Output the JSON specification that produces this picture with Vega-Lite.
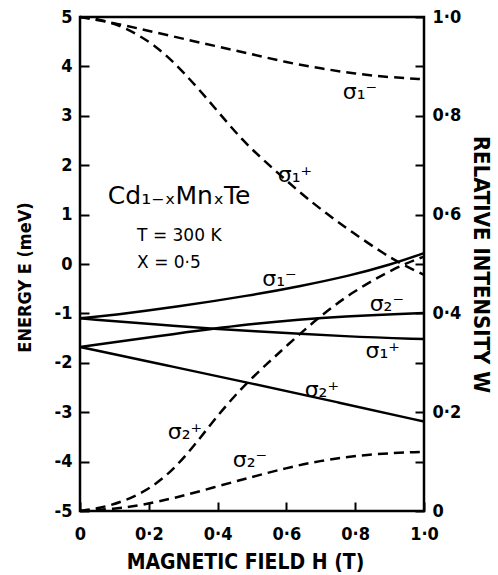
{
  "$schema": "https://vega.github.io/schema/vega-lite/v6.json",
  "width": 344,
  "height": 494,
  "autosize": "none",
  "padding": {"left": 80, "top": 17, "right": 74, "bottom": 64},
  "background": "white",
  "config": {
    "view": {"stroke": "black", "strokeWidth": 2.5},
    "axis": {
      "labelFont": "DejaVu Sans Condensed, Liberation Sans Narrow, DejaVu Sans", "labelFontWeight": "bold", "labelColor": "black", "labelFontSize": 18,
      "titleFont": "DejaVu Sans Condensed, Liberation Sans Narrow, DejaVu Sans", "titleFontWeight": "bold", "titleColor": "black", "titleFontSize": 19,
      "domain": false, "offset": -9, "tickSize": 9, "tickColor": "black", "tickWidth": 2, "grid": false, "labelFlush": false, "labelOverlap": false
    }
  },
  "datasets": {
    "energy": [
      {"s": "s1m", "H": 0, "E": -1.1}, {"s": "s1m", "H": 0.1, "E": -1.03}, {"s": "s1m", "H": 0.28, "E": -0.87}, {"s": "s1m", "H": 0.5, "E": -0.63}, {"s": "s1m", "H": 0.64, "E": -0.45}, {"s": "s1m", "H": 0.785, "E": -0.235}, {"s": "s1m", "H": 0.9, "E": -0.02}, {"s": "s1m", "H": 1.0, "E": 0.22},
      {"s": "s1p", "H": 0, "E": -1.1}, {"s": "s1p", "H": 0.28, "E": -1.26}, {"s": "s1p", "H": 0.5, "E": -1.36}, {"s": "s1p", "H": 0.78, "E": -1.47}, {"s": "s1p", "H": 1.0, "E": -1.52},
      {"s": "s2m", "H": 0, "E": -1.68}, {"s": "s2m", "H": 0.28, "E": -1.41}, {"s": "s2m", "H": 0.5, "E": -1.2}, {"s": "s2m", "H": 0.785, "E": -1.05}, {"s": "s2m", "H": 1.0, "E": -0.99},
      {"s": "s2p", "H": 0, "E": -1.68}, {"s": "s2p", "H": 0.25, "E": -2.05}, {"s": "s2p", "H": 0.5, "E": -2.42}, {"s": "s2p", "H": 0.75, "E": -2.8}, {"s": "s2p", "H": 1.0, "E": -3.19}
    ],
    "intensity": [
      {"s": "s1m", "H": 0, "W": 1.0}, {"s": "s1m", "H": 0.1, "W": 0.988}, {"s": "s1m", "H": 0.25, "W": 0.964}, {"s": "s1m", "H": 0.4, "W": 0.94}, {"s": "s1m", "H": 0.5, "W": 0.925}, {"s": "s1m", "H": 0.6, "W": 0.908}, {"s": "s1m", "H": 0.7, "W": 0.896}, {"s": "s1m", "H": 0.8, "W": 0.885}, {"s": "s1m", "H": 0.9, "W": 0.878}, {"s": "s1m", "H": 1.0, "W": 0.874},
      {"s": "s1p", "H": 0, "W": 1.0}, {"s": "s1p", "H": 0.05, "W": 0.997}, {"s": "s1p", "H": 0.13, "W": 0.98}, {"s": "s1p", "H": 0.22, "W": 0.943}, {"s": "s1p", "H": 0.3, "W": 0.89}, {"s": "s1p", "H": 0.39, "W": 0.818}, {"s": "s1p", "H": 0.47, "W": 0.751}, {"s": "s1p", "H": 0.55, "W": 0.7}, {"s": "s1p", "H": 0.64, "W": 0.644}, {"s": "s1p", "H": 0.72, "W": 0.6}, {"s": "s1p", "H": 0.79, "W": 0.565}, {"s": "s1p", "H": 0.88, "W": 0.522}, {"s": "s1p", "H": 0.94, "W": 0.498}, {"s": "s1p", "H": 1.0, "W": 0.478},
      {"s": "s2p", "H": 0, "W": 0}, {"s": "s2p", "H": 0.08, "W": 0.008}, {"s": "s2p", "H": 0.18, "W": 0.034}, {"s": "s2p", "H": 0.26, "W": 0.075}, {"s": "s2p", "H": 0.33, "W": 0.13}, {"s": "s2p", "H": 0.39, "W": 0.185}, {"s": "s2p", "H": 0.47, "W": 0.25}, {"s": "s2p", "H": 0.55, "W": 0.302}, {"s": "s2p", "H": 0.6, "W": 0.334}, {"s": "s2p", "H": 0.69, "W": 0.39}, {"s": "s2p", "H": 0.79, "W": 0.443}, {"s": "s2p", "H": 0.92, "W": 0.494}, {"s": "s2p", "H": 1.0, "W": 0.515},
      {"s": "s2m", "H": 0, "W": 0}, {"s": "s2m", "H": 0.1, "W": 0.004}, {"s": "s2m", "H": 0.18, "W": 0.012}, {"s": "s2m", "H": 0.28, "W": 0.027}, {"s": "s2m", "H": 0.39, "W": 0.048}, {"s": "s2m", "H": 0.5, "W": 0.069}, {"s": "s2m", "H": 0.6, "W": 0.087}, {"s": "s2m", "H": 0.69, "W": 0.101}, {"s": "s2m", "H": 0.83, "W": 0.115}, {"s": "s2m", "H": 1.0, "W": 0.12}
    ],
    "labels": [
      {"H": 0.814, "E": 3.49, "t": "σ₁⁻"},
      {"H": 0.625, "E": 1.81, "t": "σ₁⁺"},
      {"H": 0.58, "E": -0.3, "t": "σ₁⁻"},
      {"H": 0.892, "E": -0.81, "t": "σ₂⁻"},
      {"H": 0.88, "E": -1.77, "t": "σ₁⁺"},
      {"H": 0.703, "E": -2.56, "t": "σ₂⁺"},
      {"H": 0.305, "E": -3.4, "t": "σ₂⁺"},
      {"H": 0.494, "E": -3.97, "t": "σ₂⁻"}
    ],
    "notes": [
      {"H": 0.081, "E": 1.38, "t": "Cd₁₋ₓMnₓTe", "size": 25},
      {"H": 0.166, "E": 0.56, "t": "T = 300 K", "size": 17},
      {"H": 0.166, "E": 0.02, "t": "X = 0·5", "size": 17}
    ]
  },
  "layer": [
    {
      "data": {"name": "energy"},
      "mark": {"type": "line", "color": "black", "strokeWidth": 2.5, "interpolate": "basis"},
      "encoding": {
        "x": {"field": "H", "type": "quantitative", "scale": {"domain": [0, 1]},
          "axis": {"title": "MAGNETIC FIELD H (T)", "titleFontSize": 21, "titleX": 165, "values": [0, 0.1, 0.2, 0.3, 0.4, 0.5, 0.6, 0.7, 0.8, 0.9, 1.0], "labelPadding": 14,
            "labelExpr": "round(datum.value*10)%2==1 ? '' : (datum.value==0 ? '0' : replace(format(datum.value,'.1f'),'.','·'))", "titlePadding": 8}},
        "y": {"field": "E", "type": "quantitative", "scale": {"domain": [-5, 5]},
          "axis": {"title": "ENERGY E (meV)", "titleFontSize": 18, "titleY": 260, "titleAlign": "center", "values": [-5, -4, -3, -2, -1, 0, 1, 2, 3, 4, 5], "labelPadding": 8, "titlePadding": 20, "labelExpr": "toString(datum.value)"}},
        "detail": {"field": "s"}
      }
    },
    {
      "data": {"name": "intensity"},
      "mark": {"type": "line", "color": "black", "strokeWidth": 2.5, "strokeDash": [10, 6], "interpolate": "basis"},
      "encoding": {
        "x": {"field": "H", "type": "quantitative", "scale": {"domain": [0, 1]}},
        "y": {"field": "W", "type": "quantitative", "scale": {"domain": [0, 1]},
          "axis": {"orient": "right", "title": "RELATIVE INTENSITY W", "titleFontSize": 22, "values": [0, 0.1, 0.2, 0.3, 0.4, 0.5, 0.6, 0.7, 0.8, 0.9, 1.0], "labelPadding": 8, "titlePadding": 8,
            "labelExpr": "round(datum.value*10)%2==1 ? '' : (datum.value==0 ? '0' : replace(format(datum.value,'.1f'),'.','·'))"}},
        "detail": {"field": "s"}
      }
    },
    {
      "data": {"name": "labels"},
      "mark": {"type": "text", "font": "DejaVu Sans", "fontSize": 22, "color": "black", "align": "center", "baseline": "middle"},
      "encoding": {
        "x": {"field": "H", "type": "quantitative", "scale": {"domain": [0, 1]}},
        "y": {"field": "E", "type": "quantitative", "scale": {"domain": [-5, 5]}, "axis": null},
        "text": {"field": "t"}
      }
    },
    {
      "data": {"name": "notes"},
      "mark": {"type": "text", "font": "DejaVu Sans", "color": "black", "align": "left", "baseline": "middle"},
      "encoding": {
        "x": {"field": "H", "type": "quantitative", "scale": {"domain": [0, 1]}},
        "y": {"field": "E", "type": "quantitative", "scale": {"domain": [-5, 5]}, "axis": null},
        "text": {"field": "t"},
        "size": {"field": "size", "type": "quantitative", "scale": null}
      }
    }
  ],
  "resolve": {"scale": {"y": "independent"}}
}
